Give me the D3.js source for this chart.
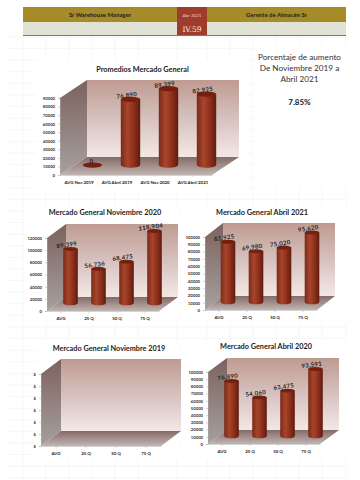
<!DOCTYPE html>
<html><head><meta charset="utf-8">
<script src="https://cdn.jsdelivr.net/npm/d3@7/dist/d3.min.js"></script>
<style>html,body{margin:0;padding:0;background:#fff}svg{display:block}text{font-family:Lato,"Open Sans",sans-serif}</style>
</head><body><svg id="c" width="360" height="480"></svg>
<script>
const headerLeft = "Sr Warehouse Manager";
const headerMid = "Abr 2021";
const headerRight = "Gerente de Almacén Sr";
const headerCode = "IV.59";
const noteLines = ["Porcentaje de aumento","De Noviembre 2019 a","Abril 2021"];
const notePct = "7.85%";

const catsQ = ["AVG","25 Q","50 Q","75 Q"];
const catsTop = ["AVG Nov 2019","AVG Abril 2019","AVG Nov 2020","AVG Abril 2021"];
const valsTop = [0,76890,89399,82925];
const valsNov20 = [89399,56736,68475,118904];
const valsAbr21 = [82925,69980,75020,95620];
const valsNov19 = [];
const valsAbr20 = [76890,54060,63475,93591];
const ticksTop = d3.range(0,90001,10000);
const ticksNov20 = d3.range(0,120001,20000);
const ticksTen = d3.range(0,100001,10000);
const ticksNov19 = [0,1,2,3,4,5,6];

const svg = d3.select("#c");
const defs = svg.append("defs");

function grad(id,stops,x2,y2){
  const g=defs.append("linearGradient").attr("id",id).attr("x1",0).attr("y1",0).attr("x2",x2).attr("y2",y2);
  stops.forEach(s=>g.append("stop").attr("offset",s[0]).attr("stop-color",s[1]));
}
grad("wall",[[0,"#bf9b91"],[.55,"#d9c5c3"],[1,"#f3e8e5"]],0,1);
grad("side",[[0,"#7c625e"],[1,"#a6a09e"]],0,1);
grad("floor",[[0,"#866a66"],[1,"#c0b5b2"]],0,1);
grad("bar",[[0,"#7a2a18"],[.35,"#a8452c"],[.7,"#8a2e1a"],[1,"#5e1c0e"]],1,0);

// spreadsheet gridlines
const gridX = [23,46,69,92,115,138,177,207,230,253,276,299,322,346];
const gridY = d3.range(37,480,11.6);
const gg = svg.append("g").attr("stroke","#edf1ed").attr("stroke-width",.6);
gg.selectAll(".gx").data(gridX).join("line").attr("x1",d=>d).attr("x2",d=>d).attr("y1",36).attr("y2",480);
gg.selectAll(".gy").data(gridY).join("line").attr("x1",8).attr("x2",346).attr("y1",d=>d).attr("y2",d=>d);
// white chart panels covering the sheet grid
const panelX = [36,253,24,182,38,182];
const panelY = [60,44,207,207,340,340];
const panelW = [212,93,154,164,140,164];
const panelH = [130,144,116,116,120,120];
svg.selectAll(".panel").data(panelX).join("rect").attr("x",d=>d).attr("y",(d,i)=>panelY[i]).attr("width",(d,i)=>panelW[i]).attr("height",(d,i)=>panelH[i]).attr("fill","#fff");

// header
const hx = d3.scaleOrdinal().domain(["l","m","r"]).range([23,177,207]);
const hw = {l:154,m:30,r:139};
["l","m","r"].forEach(k=>{
  svg.append("rect").attr("x",hx(k)).attr("y",7).attr("width",hw[k]).attr("height",15).attr("fill",k==="m"?"#a03c2c":"#a58c28");
  svg.append("rect").attr("x",hx(k)).attr("y",22).attr("width",hw[k]).attr("height",13).attr("fill",k==="m"?"#a03c2c":"#dfe2d4");
});
svg.append("line").attr("x1",23).attr("x2",346).attr("y1",35.5).attr("y2",35.5).attr("stroke","#77776a");
svg.append("text").attr("x",100).attr("y",16.5).attr("text-anchor","middle").attr("font-size",6).attr("font-weight",700).attr("fill","#222").text(headerLeft);
svg.append("text").attr("x",192).attr("y",16.5).attr("text-anchor","middle").attr("font-size",4.6).attr("fill","#e8d0c8").text(headerMid);
svg.append("text").attr("x",276.5).attr("y",16.5).attr("text-anchor","middle").attr("font-size",6).attr("font-weight",700).attr("fill","#222").text(headerRight);
svg.append("text").attr("x",192).attr("y",31.5).attr("text-anchor","middle").attr("font-size",7.6).attr("style","font-family:'DejaVu Serif'").attr("fill","#f4e8e0").text(headerCode);

// note
svg.selectAll(".note").data(noteLines).join("text").attr("x",299.5).attr("y",(d,i)=>60+i*11).attr("text-anchor","middle").attr("font-size",8.2).attr("fill","#333").text(d=>d);
svg.append("text").attr("x",299.5).attr("y",105).attr("text-anchor","middle").attr("font-size",8).attr("font-weight",700).attr("fill","#222").text(notePct);

function chart(o){
  const g = svg.append("g");
  const y = d3.scaleLinear().domain(o.domain).range([o.y0,o.y1]);
  const x = d3.scaleBand().domain(o.cats).range([o.x0,o.x1]);
  const dx=o.dx, dy=o.dy;
  g.append("path").attr("d",`M${o.x0+dx},${o.y1+dy}H${o.x1+dx}V${o.y0+dy}H${o.x0+dx}Z`).attr("fill","url(#wall)");
  g.append("path").attr("d",`M${o.x0},${o.y1}L${o.x0+dx},${o.y1+dy}V${o.y0+dy}L${o.x0},${o.y0}Z`).attr("fill","url(#side)");
  g.append("path").attr("d",`M${o.x0},${o.y0}L${o.x0+dx},${o.y0+dy}H${o.x1+dx}L${o.x1},${o.y0}Z`).attr("fill","url(#floor)");
  const ay = d3.axisLeft(y).tickValues(o.ticks).tickSize(2).tickFormat(o.fmt||(d=>d));
  const axY = g.append("g").attr("transform",`translate(${o.x0},0)`).call(ay);
  const ax = d3.axisBottom(x).tickSize(2).tickSizeOuter(0);
  const axX = g.append("g").attr("transform",`translate(0,${o.y0})`).call(ax);
  axY.selectAll("text").attr("font-size",4.2).attr("font-weight",700).attr("fill","#333");
  axX.selectAll("text").attr("font-size",4.4).attr("font-weight",700).attr("fill","#222").attr("dy",3.5);
  [axY,axX].forEach(a=>a.selectAll("line,path").attr("stroke","#aaa").attr("stroke-width",.5));
  const rx=o.bw, ry=o.bw*.27;
  const cx=i=>x(o.cats[i])+x.bandwidth()/2+dx*.5;
  const top=d=>y(d)+dy*.55;
  const bars = g.selectAll(".b").data(o.vals).join("g");
  bars.each(function(d,i){
    const b=d3.select(this), c=cx(i), t=top(d), base=y(0)+dy*.55;
    if(d>0) b.append("path").attr("d",`M${c-rx},${t}V${base}A${rx},${ry} 0 0 0 ${c+rx},${base}V${t}Z`).attr("fill","url(#bar)");
    b.append("ellipse").attr("cx",c).attr("cy",t).attr("rx",rx).attr("ry",ry).attr("fill","#74200f");
    const lx=d>0?c-3.5:c-1, ly=t-2;
    b.append("text").attr("x",lx).attr("y",ly).attr("text-anchor","middle")
      .attr("font-size",6).attr("font-weight",700).attr("letter-spacing",.35).attr("fill","#222")
      .attr("transform",d>0?`rotate(-8 ${lx} ${ly})`:null)
      .text(d3.format(",")(d));
  });
  svg.append("text").attr("x",o.tx).attr("y",o.ty).attr("text-anchor","middle").attr("font-size",7.3).attr("font-weight",700).attr("fill","#222").text(o.title);
}

chart({title:"Promedios Mercado General",tx:142.5,ty:71.5,cats:catsTop,vals:valsTop,domain:[0,90000],ticks:ticksTop,x0:60,x1:212,y0:175,y1:98,dx:27,dy:-18,bw:9.7});
chart({title:"Mercado General Noviembre 2020",tx:105,ty:215,cats:catsQ,vals:valsNov20,domain:[0,120000],ticks:ticksNov20,x0:47,x1:159,y0:311,y1:238,dx:19,dy:-14,bw:7.3});
chart({title:"Mercado General Abril 2021",tx:262,ty:214.5,cats:catsQ,vals:valsAbr21,domain:[0,100000],ticks:ticksTen,x0:205,x1:317,y0:310,y1:237,dx:18,dy:-14,bw:7.3});
chart({title:"Mercado General Noviembre 2019",tx:109,ty:351,cats:catsQ,vals:valsNov19,domain:[0,6],ticks:ticksNov19,fmt:()=>"$",x0:41,x1:161,y0:446,y1:374,dx:20,dy:-15,bw:7.3});
chart({title:"Mercado General Abril 2020",tx:266,ty:349,cats:catsQ,vals:valsAbr20,domain:[0,100000],ticks:ticksTen,x0:208,x1:320,y0:444,y1:372,dx:19,dy:-14,bw:7.3});
</script></body></html>
